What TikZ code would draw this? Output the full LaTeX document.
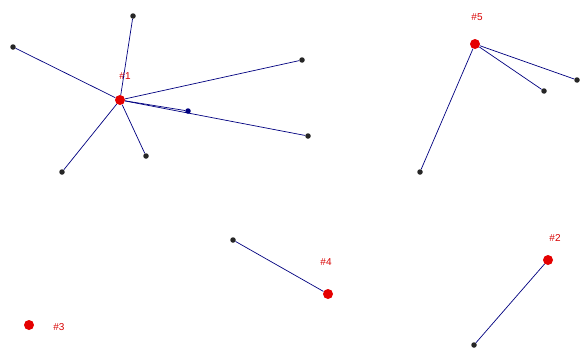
\documentclass[tikz,border=0pt]{standalone}
\usepackage{fontspec}
\setmainfont{Liberation Sans}
\begin{document}
\begin{tikzpicture}[x=1pt,y=-1pt,
  leaf/.style={circle,fill=black!85,inner sep=0pt,minimum size=5.5pt},
  hub/.style={circle,fill=red!90!black,inner sep=0pt,minimum size=10pt},
  lbl/.style={text=red!85!black,font=\fontsize{10}{10}\selectfont,inner sep=0pt},
  edge/.style={draw=blue!50!black,line width=0.7pt}]
\useasboundingbox (0,0) rectangle (583,351);
\fill[white] (0,0) rectangle (583,351);
% cluster 1
\node[hub] (h1) at (120,100) {};
\node[lbl] (l1) at (125,76) {\#1};
\node[leaf] (a1) at (133,16) {};
\node[leaf] (a2) at (13,47) {};
\node[leaf] (a3) at (302,60) {};
\node[leaf,fill=blue!50!black] (a4) at (188,111) {};
\node[leaf] (a5) at (308,136) {};
\node[leaf] (a6) at (146,156) {};
\node[leaf] (a7) at (62,172) {};
\foreach \n in {a1,a2,a3,a4,a5,a6,a7} \draw[edge] (h1) -- (\n);
% cluster 5
\node[hub] (h5) at (475,44) {};
\node[lbl] (l5) at (477,17) {\#5};
\node[leaf] (b1) at (577,80) {};
\node[leaf] (b2) at (544,91) {};
\node[leaf] (b3) at (420,172) {};
\foreach \n in {b1,b2,b3} \draw[edge] (h5) -- (\n);
% cluster 4
\node[hub] (h4) at (328,294) {};
\node[lbl] (l4) at (326,262) {\#4};
\node[leaf] (c1) at (233,240) {};
\draw[edge] (h4) -- (c1);
% cluster 3
\node[hub] (h3) at (29,325) {};
\node[lbl] (l3) at (59,327) {\#3};
% cluster 2
\node[hub] (h2) at (548,260) {};
\node[lbl] (l2) at (555,238) {\#2};
\node[leaf] (d1) at (474,345) {};
\draw[edge] (h2) -- (d1);
\end{tikzpicture}
\end{document}
